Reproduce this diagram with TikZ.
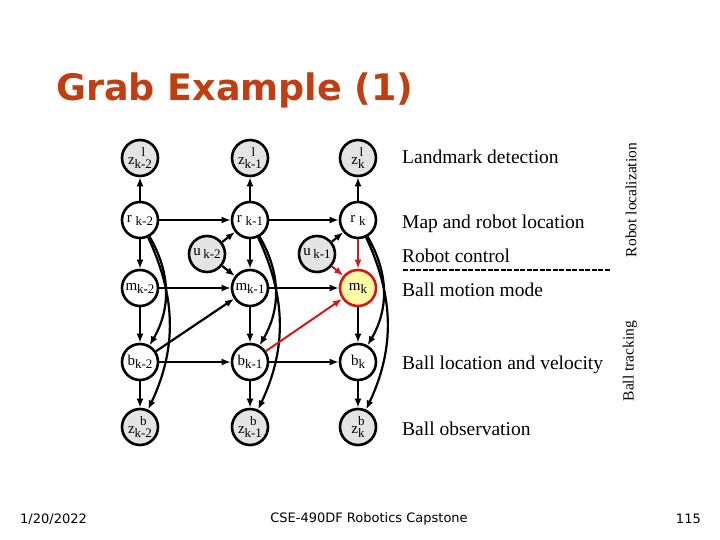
\documentclass[tikz,border=0pt]{standalone}
\usepackage{fontspec}
\setmainfont{Liberation Serif}
\newfontfamily\titlefont{DejaVu Sans}
\newfontfamily\footfont{DejaVu Sans}
\usetikzlibrary{arrows.meta}

\definecolor{titlered}{RGB}{192,62,18}
\definecolor{hotred}{RGB}{210,25,25}
\definecolor{obsgray}{RGB}{228,228,228}
\definecolor{paleyellow}{RGB}{255,250,165}

% variable labels: base letter, top index, bottom index
\newcommand{\smallidx}[1]{\fontsize{13}{11}\selectfont #1}
\newcommand{\vb}[3]{#1\raisebox{-4pt}{\smallidx{\shortstack{#2\\#3}}}}
\newcommand{\vs}[2]{#1\raisebox{-3pt}{\smallidx{#2}}}

\begin{document}
\begin{tikzpicture}[x=1pt,y=-1pt,>={Latex[length=9pt,width=7pt]},
  var/.style={circle,draw,line width=2.6pt,minimum size=36pt,inner sep=0pt,
    fill=white,font=\fontsize{15}{15}\selectfont},
  obs/.style={var,fill=obsgray},
  hot/.style={var,draw=hotred,fill=paleyellow},
  link/.style={->,line width=2.2pt},
  hotlink/.style={->,line width=2pt,draw=hotred},
  note/.style={anchor=west,inner sep=0pt,font=\fontsize{19.5}{19.5}\selectfont},
  side/.style={rotate=90,inner sep=0pt,font=\fontsize{15.5}{15.5}\selectfont}]
\useasboundingbox (0,0) rectangle (720,540);

% title and footer
\node[anchor=west,inner sep=0pt,text=titlered,font=\titlefont\bfseries\fontsize{36.5}{36.5}\selectfont] (T) at (56,90) {Grab Example (1)};
\node[anchor=west,inner sep=0pt,font=\footfont\fontsize{13}{13}\selectfont] (F1) at (20,519) {1/20/2022};
\node[inner sep=0pt,font=\footfont\fontsize{13}{13}\selectfont] (F2) at (369,519) {CSE-490DF Robotics Capstone};
\node[anchor=east,inner sep=0pt,font=\footfont\fontsize{13}{13}\selectfont] (F3) at (701,519) {115};

% landmark observations
\node[obs] (L0) at (140,158) {\vb{z}{l}{k-2}};
\node[obs] (L1) at (250,158) {\vb{z}{l}{k-1}};
\node[obs] (L2) at (358,158) {\vb{z}{l}{k}};
% map and robot location
\node[var] (R0) at (140,220) {\vs{r\ }{k-2}};
\node[var] (R1) at (250,220) {\vs{r\ }{k-1}};
\node[var] (R2) at (358,220) {\vs{r\ }{k}};
% robot control
\node[obs] (U0) at (207,254) {\vs{u\,}{k-2}};
\node[obs] (U1) at (317,254) {\vs{u\,}{k-1}};
% ball motion mode
\node[var] (M0) at (140,288) {\vs{m}{k-2}};
\node[var] (M1) at (250,288) {\vs{m}{k-1}};
\node[hot] (M2) at (358,288) {\vs{m}{k}};
% ball location and velocity
\node[var] (B0) at (140,362) {\vs{b}{k-2}};
\node[var] (B1) at (250,362) {\vs{b}{k-1}};
\node[var] (B2) at (358,362) {\vs{b}{k}};
% ball observations
\node[obs] (Z0) at (140,427) {\vb{z}{b}{k-2}};
\node[obs] (Z1) at (250,427) {\vb{z}{b}{k-1}};
\node[obs] (Z2) at (358,427) {\vb{z}{b}{k}};

% edges
\draw[link] (R0) -- (L0);
\draw[link] (R1) -- (L1);
\draw[link] (R2) -- (L2);
\draw[link] (R0) -- (R1);
\draw[link] (R1) -- (R2);
\draw[link] (U0) -- (R1);
\draw[link] (U0) -- (M1);
\draw[link] (U1) -- (R2);
\draw[hotlink] (U1) -- (M2);
\draw[link] (R0) -- (M0);
\draw[link] (R1) -- (M1);
\draw[hotlink] (R2) -- (M2);
\draw[link] (R0) to[bend left=30] (B0);
\draw[link] (R1) to[bend left=30] (B1);
\draw[link] (R2) to[bend left=30] (B2);
\draw[link] (R0) to[bend left=25] (Z0);
\draw[link] (R1) to[bend left=25] (Z1);
\draw[link] (R2) to[bend left=25] (Z2);
\draw[link] (M0) -- (M1);
\draw[link] (M1) -- (M2);
\draw[link] (M0) -- (B0);
\draw[link] (M1) -- (B1);
\draw[link] (M2) -- (B2);
\draw[link] (B0) -- (M1);
\draw[hotlink] (B1) -- (M2);
\draw[link] (B0) -- (B1);
\draw[link] (B1) -- (B2);
\draw[link] (B0) -- (Z0);
\draw[link] (B1) -- (Z1);
\draw[link] (B2) -- (Z2);

% row notes
\node[note] (N1) at (402,157) {Landmark detection};
\node[note] (N2) at (402,224) {Map and robot location};
\node[note] (N3) at (402,256) {Robot control};
\node[note] (N4) at (402,290) {Ball motion mode};
\node[note] (N5) at (402,365) {Ball location and velocity};
\node[note] (N6) at (402,429) {Ball observation};
\coordinate (D0) at (403,270);
\coordinate (D1) at (610,270);
\draw[line width=2.6pt,dash pattern=on 5pt off 1.5pt] (D0) -- (D1);
\node[side] (S1) at (631,200) {Robot localization};
\node[side] (S2) at (630,361) {Ball tracking};
\end{tikzpicture}
\end{document}
